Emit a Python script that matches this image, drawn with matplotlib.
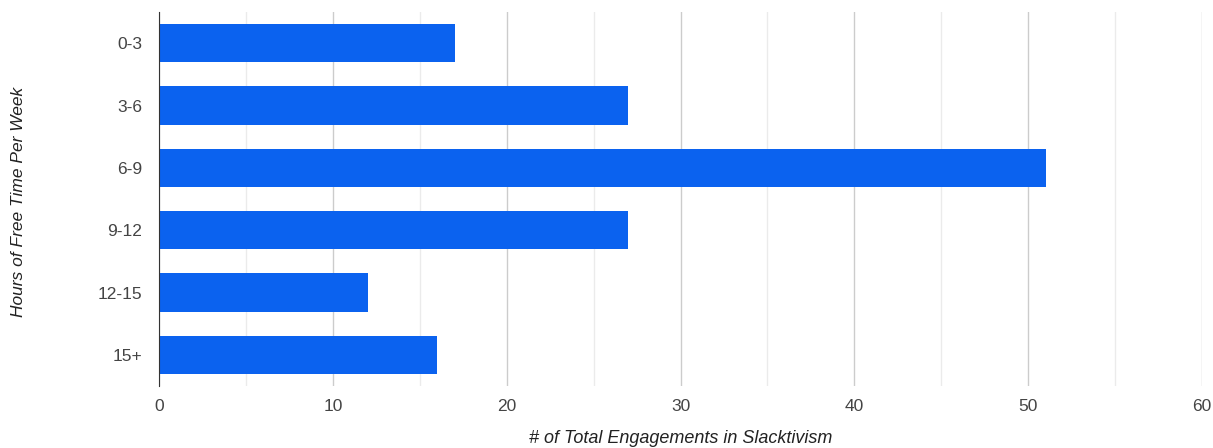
import matplotlib.pyplot as plt
import numpy as np

categories = ['0-3', '3-6', '6-9', '9-12', '12-15', '15+']
engagements = [17, 27, 51, 27, 12, 16]
x_ticks = [0, 10, 20, 30, 40, 50, 60]

plt.rcParams['font.family'] = ['Liberation Sans', 'DejaVu Sans']

W, H = 1213, 448
fig = plt.figure(figsize=(W / 100, H / 100), dpi=100)
ax = fig.add_axes([159 / W, 1 - 386 / H, (1202 - 159) / W, 374 / H])

y = np.arange(len(categories))
ax.barh(y, engagements, height=0.61, color='#0b62ef', zorder=3)

ax.set_xlim(0, 60)
ax.set_ylim(len(categories) - 0.5, -0.5)
ax.set_xticks(x_ticks)
ax.set_xticks(np.arange(5, 60, 10), minor=True)
ax.set_yticks(y)
ax.set_yticklabels(categories)

ax.grid(axis='x', which='major', color='#cccccc', linewidth=1, zorder=0)
ax.grid(axis='x', which='minor', color='#ebebeb', linewidth=1, zorder=0)
ax.tick_params(axis='both', which='both', length=0, labelsize=12.5, labelcolor='#444444')
ax.tick_params(axis='y', pad=12)
ax.tick_params(axis='x', pad=9)

for s in ['top', 'right', 'bottom']:
    ax.spines[s].set_visible(False)
ax.spines['left'].set_color('#333333')
ax.spines['left'].set_zorder(4)

fig.text(681 / W, 1 - 443 / H, '# of Total Engagements in Slacktivism', fontsize=13,
         style='italic', color='#222222', ha='center', va='baseline')
fig.text(18.5 / W, 1 - 202 / H, 'Hours of Free Time Per Week', fontsize=12.5,
         style='italic', color='#222222', ha='center', va='center', rotation=90)

fig.savefig('out.png', dpi=100)
